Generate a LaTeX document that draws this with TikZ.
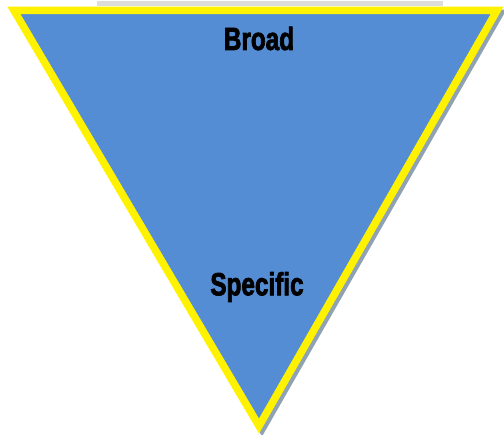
\documentclass[tikz,border=0pt]{standalone}
\usepackage{fontspec}
\usepackage{xcolor}
\usepackage{tikz}
\usetikzlibrary{calc}
\newfontfamily\heavyfont[FakeBold=2.6]{Liberation Sans}
\definecolor{funnelblue}{HTML}{548DD4}
\definecolor{shadowgray}{HTML}{8FA2B3}
\definecolor{titlegray}{HTML}{DCDCDC}

\begin{document}
\begin{tikzpicture}[
  x=1pt, y=-1pt,
  funnel/.style={draw=yellow, fill=funnelblue, line width=7.5pt, line join=miter},
  shade/.style={draw=shadowgray, fill=shadowgray, line width=7.5pt, line join=miter},
  lbl/.style={inner sep=0pt, font=\heavyfont\bfseries\fontsize{32}{32}\selectfont},
]
\useasboundingbox (0,0) rectangle (504,435);

% Corners of the funnel
\coordinate (tl) at (14,10.5);
\coordinate (tr) at (497,10.5);
\coordinate (tip) at (259,426);

% Cut-off title strip at the top
\fill[titlegray] (97,1) rectangle (443,6);

% Shadow, then the funnel on top
\draw[shade] ($(tl)+(3,3)$) -- ($(tr)+(3,3)$) -- ($(tip)+(3,3)$) -- cycle;
\draw[funnel] (tl) -- (tr) -- (tip) -- cycle;

% Labels
\node[lbl] (broad) at (259,38.5) {\scalebox{0.76}[1]{Broad}};
\node[lbl] (specific) at (257,287) {\scalebox{0.76}[1]{Specific}};
\end{tikzpicture}
\end{document}
